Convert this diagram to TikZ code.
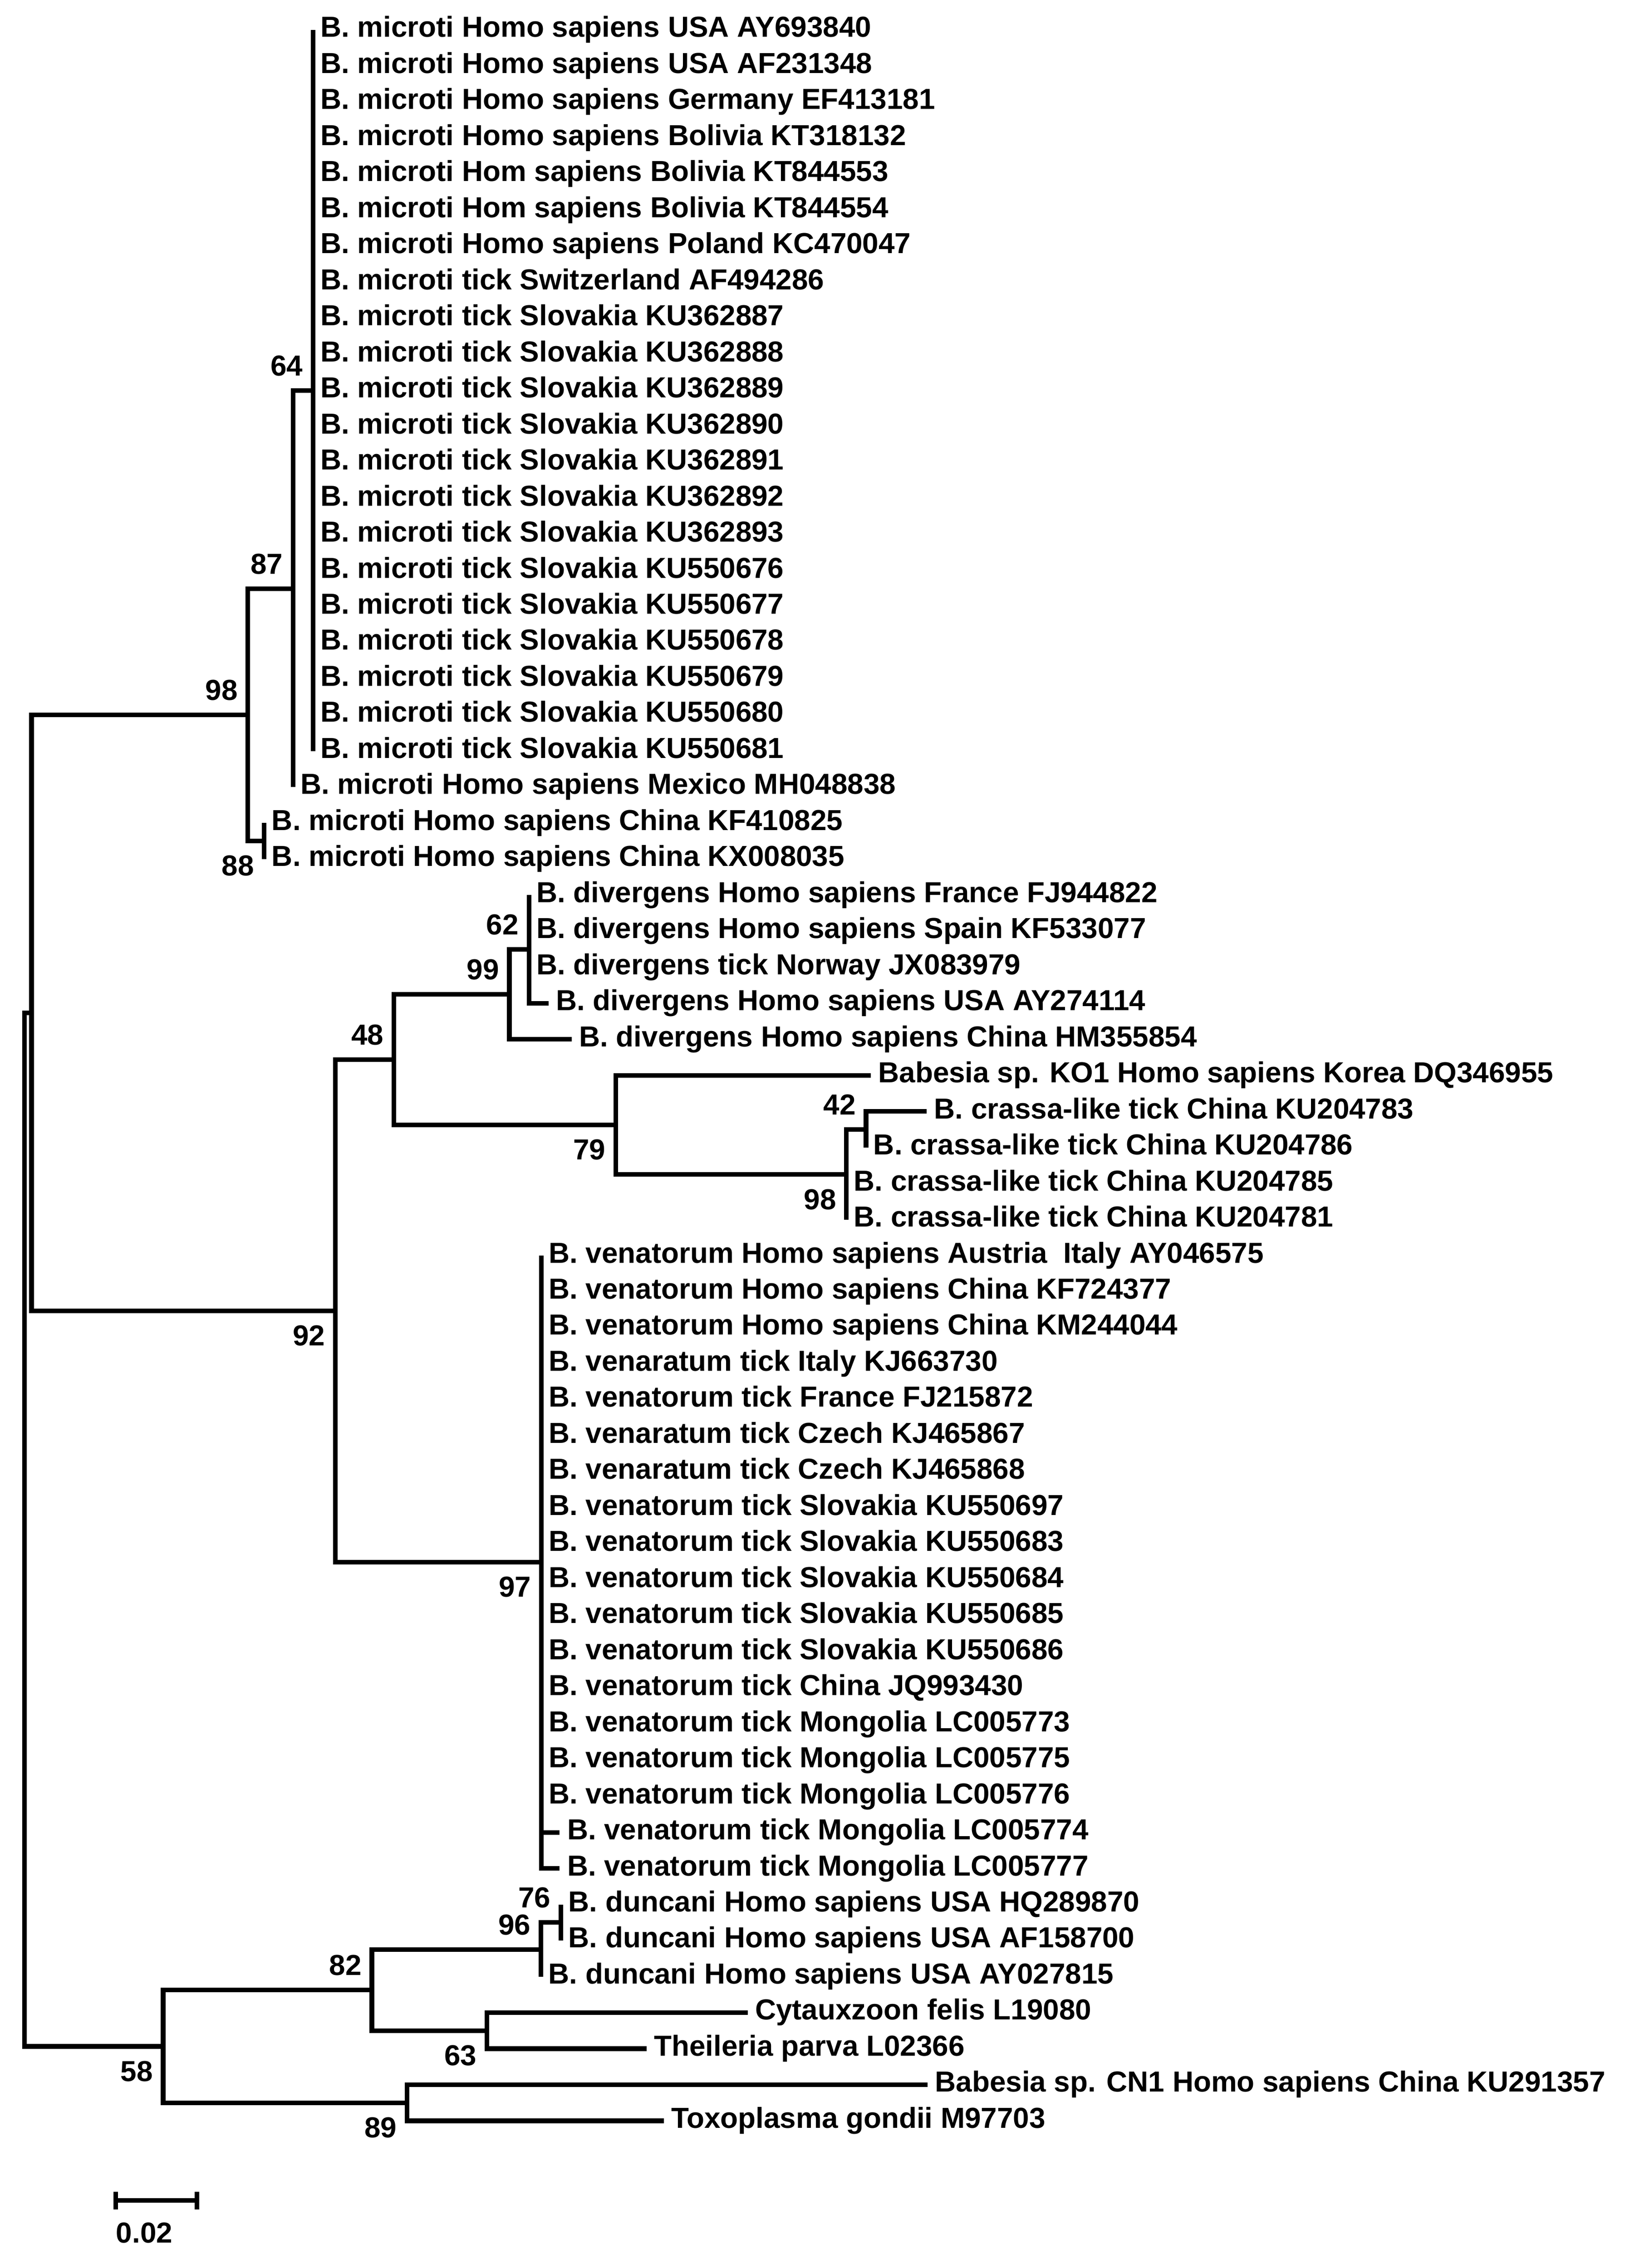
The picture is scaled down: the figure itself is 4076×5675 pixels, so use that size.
\documentclass[tikz,border=0pt]{standalone}
\usepackage{fontspec}
\setmainfont{Liberation Sans}
\tikzset{
	taxon/.style      = {anchor=west, inner xsep=4.5pt, inner ysep=0pt,
		text height=12pt, text depth=3pt,
		font=\fontsize{18.1}{21}\selectfont\bfseries},
	boot/.style       = {anchor=base east, inner sep=0pt, xshift=-6.25pt,
		font=\fontsize{18.1}{21}\selectfont\bfseries},
	bootup/.style     = {boot, yshift=9.25pt},
	bootdown/.style   = {boot, yshift=-21.75pt},
	branchline/.style = {draw, line width=2.9pt, line join=miter}
}
\begin{document}
\begin{tikzpicture}
		[
		x = 0.25pt,
		y = -0.25pt
		]
		\useasboundingbox (0,0) rectangle (4076,5675);
		% internal nodes of the tree
		\coordinate (root) at (61,3827.4);
		\coordinate (nA)   at (79,2534.4);
		\coordinate (n98a) at (620,1788.8);
		\coordinate (n87)  at (733,1473.1);
		\coordinate (n64)  at (783,977);
		\coordinate (n88)  at (661,2104.5);
		\coordinate (n92)  at (839,3279.9);
		\coordinate (n48)  at (985,2651.3);
		\coordinate (n99)  at (1274,2487.9);
		\coordinate (n62)  at (1323,2375.1);
		\coordinate (n79)  at (1540,2814.8);
		\coordinate (n98b) at (2117,2938.9);
		\coordinate (n42)  at (2166,2826.1);
		\coordinate (n97)  at (1354,3908.5);
		\coordinate (n58)  at (408,5120.6);
		\coordinate (n82)  at (930,4979.6);
		\coordinate (n96)  at (1353,4878.2);
		\coordinate (n76)  at (1403,4810.5);
		\coordinate (n63)  at (1218,5081.1);
		\coordinate (n89)  at (1018,5261.5);
		
		% B. microti
		\node [taxon] (t1)  at (783,75)     {B. microti Homo sapiens USA AY693840};
		\node [taxon] (t2)  at (783,165.2)  {B. microti Homo sapiens USA AF231348};
		\node [taxon] (t3)  at (783,255.4)  {B. microti Homo sapiens Germany EF413181};
		\node [taxon] (t4)  at (783,345.6)  {B. microti Homo sapiens Bolivia KT318132};
		\node [taxon] (t5)  at (783,435.8)  {B. microti Hom sapiens Bolivia KT844553};
		\node [taxon] (t6)  at (783,526)    {B. microti Hom sapiens Bolivia KT844554};
		\node [taxon] (t7)  at (783,616.2)  {B. microti Homo sapiens Poland KC470047};
		\node [taxon] (t8)  at (783,706.4)  {B. microti tick Switzerland AF494286};
		\node [taxon] (t9)  at (783,796.6)  {B. microti tick Slovakia KU362887};
		\node [taxon] (t10) at (783,886.8)  {B. microti tick Slovakia KU362888};
		\node [taxon] (t11) at (783,977)    {B. microti tick Slovakia KU362889};
		\node [taxon] (t12) at (783,1067.2) {B. microti tick Slovakia KU362890};
		\node [taxon] (t13) at (783,1157.4) {B. microti tick Slovakia KU362891};
		\node [taxon] (t14) at (783,1247.6) {B. microti tick Slovakia KU362892};
		\node [taxon] (t15) at (783,1337.8) {B. microti tick Slovakia KU362893};
		\node [taxon] (t16) at (783,1428)   {B. microti tick Slovakia KU550676};
		\node [taxon] (t17) at (783,1518.2) {B. microti tick Slovakia KU550677};
		\node [taxon] (t18) at (783,1608.4) {B. microti tick Slovakia KU550678};
		\node [taxon] (t19) at (783,1698.6) {B. microti tick Slovakia KU550679};
		\node [taxon] (t20) at (783,1788.8) {B. microti tick Slovakia KU550680};
		\node [taxon] (t21) at (783,1879)   {B. microti tick Slovakia KU550681};
		\node [taxon] (t22) at (733,1969.2) {B. microti Homo sapiens Mexico MH048838};
		\node [taxon] (t23) at (661,2059.4) {B. microti Homo sapiens China KF410825};
		\node [taxon] (t24) at (661,2149.6) {B. microti Homo sapiens China KX008035};
		% B. divergens, KO1, crassa-like
		\node [taxon] (t25) at (1323,2239.8) {B. divergens Homo sapiens France FJ944822};
		\node [taxon] (t26) at (1323,2330)   {B. divergens Homo sapiens Spain KF533077};
		\node [taxon] (t27) at (1323,2420.2) {B. divergens tick Norway JX083979};
		\node [taxon] (t28) at (1372,2510.4) {B. divergens Homo sapiens USA AY274114};
		\node [taxon] (t29) at (1430,2600.6) {B. divergens Homo sapiens China HM355854};
		\node [taxon] (t30) at (2178,2690.8) {Babesia sp. KO1 Homo sapiens Korea DQ346955};
		\node [taxon] (t31) at (2318,2781)   {B. crassa-like tick China KU204783};
		\node [taxon] (t32) at (2166,2871.2) {B. crassa-like tick China KU204786};
		\node [taxon] (t33) at (2117,2961.4) {B. crassa-like tick China KU204785};
		\node [taxon] (t34) at (2117,3051.6) {B. crassa-like tick China KU204781};
		% B. venatorum
		\node [taxon] (t35) at (1354,3141.8) {B. venatorum Homo sapiens Austria\ \ Italy AY046575};
		\node [taxon] (t36) at (1354,3232)   {B. venatorum Homo sapiens China KF724377};
		\node [taxon] (t37) at (1354,3322.2) {B. venatorum Homo sapiens China KM244044};
		\node [taxon] (t38) at (1354,3412.4) {B. venaratum tick Italy KJ663730};
		\node [taxon] (t39) at (1354,3502.6) {B. venatorum tick France FJ215872};
		\node [taxon] (t40) at (1354,3592.8) {B. venaratum tick Czech KJ465867};
		\node [taxon] (t41) at (1354,3683)   {B. venaratum tick Czech KJ465868};
		\node [taxon] (t42) at (1354,3773.2) {B. venatorum tick Slovakia KU550697};
		\node [taxon] (t43) at (1354,3863.4) {B. venatorum tick Slovakia KU550683};
		\node [taxon] (t44) at (1354,3953.6) {B. venatorum tick Slovakia KU550684};
		\node [taxon] (t45) at (1354,4043.8) {B. venatorum tick Slovakia KU550685};
		\node [taxon] (t46) at (1354,4134)   {B. venatorum tick Slovakia KU550686};
		\node [taxon] (t47) at (1354,4224.2) {B. venatorum tick China JQ993430};
		\node [taxon] (t48) at (1354,4314.4) {B. venatorum tick Mongolia LC005773};
		\node [taxon] (t49) at (1354,4404.6) {B. venatorum tick Mongolia LC005775};
		\node [taxon] (t50) at (1354,4494.8) {B. venatorum tick Mongolia LC005776};
		\node [taxon] (t51) at (1400,4585)   {B. venatorum tick Mongolia LC005774};
		\node [taxon] (t52) at (1400,4675.2) {B. venatorum tick Mongolia LC005777};
		% outgroups
		\node [taxon] (t53) at (1403,4765.4) {B. duncani Homo sapiens USA HQ289870};
		\node [taxon] (t54) at (1403,4855.6) {B. duncani Homo sapiens USA AF158700};
		\node [taxon] (t55) at (1353,4945.8) {B. duncani Homo sapiens USA AY027815};
		\node [taxon] (t56) at (1870,5036)   {Cytauxzoon felis L19080};
		\node [taxon] (t57) at (1617,5126.2) {Theileria parva L02366};
		\node [taxon] (t58) at (2320,5216.4) {Babesia sp. CN1 Homo sapiens China KU291357};
		\node [taxon] (t59) at (1660,5306.6) {Toxoplasma gondii M97703};
		
		% branches
		\draw [branchline] (root) |- (nA);
		\draw [branchline] (root) |- (n58);
		\draw [branchline] (nA) |- (n98a);
		\draw [branchline] (nA) |- (n92);
		\draw [branchline] (n98a) |- (n87);
		\draw [branchline] (n98a) |- (n88);
		\draw [branchline] (n87) |- (n64);
		\draw [branchline] (n87) -- (t22.west);
		\foreach \i in {1,...,21}
			\draw [branchline] (n64) -- (t\i.west);
		\draw [branchline] (n88) -- (t23.west);
		\draw [branchline] (n88) -- (t24.west);
		\draw [branchline] (n92) |- (n48);
		\draw [branchline] (n92) |- (n97);
		\draw [branchline] (n48) |- (n99);
		\draw [branchline] (n48) |- (n79);
		\draw [branchline] (n99) |- (n62);
		\draw [branchline] (n99) |- (t29.west);
		\foreach \i in {25,26,27}
			\draw [branchline] (n62) -- (t\i.west);
		\draw [branchline] (n62) |- (t28.west);
		\draw [branchline] (n79) |- (t30.west);
		\draw [branchline] (n79) |- (n98b);
		\draw [branchline] (n98b) |- (n42);
		\draw [branchline] (n98b) -- (t33.west);
		\draw [branchline] (n98b) -- (t34.west);
		\draw [branchline] (n42) |- (t31.west);
		\draw [branchline] (n42) -- (t32.west);
		\foreach \i in {35,...,50}
			\draw [branchline] (n97) -- (t\i.west);
		\draw [branchline] (n97) |- (t51.west);
		\draw [branchline] (n97) |- (t52.west);
		\draw [branchline] (n58) |- (n82);
		\draw [branchline] (n58) |- (n89);
		\draw [branchline] (n82) |- (n96);
		\draw [branchline] (n82) |- (n63);
		\draw [branchline] (n96) |- (n76);
		\draw [branchline] (n96) -- (t55.west);
		\draw [branchline] (n76) -- (t53.west);
		\draw [branchline] (n76) -- (t54.west);
		\draw [branchline] (n63) |- (t56.west);
		\draw [branchline] (n63) |- (t57.west);
		\draw [branchline] (n89) |- (t58.west);
		\draw [branchline] (n89) |- (t59.west);
		
		% bootstrap values
		\node [bootup]   (b64)  at (n64)  {64};
		\node [bootup]   (b87)  at (n87)  {87};
		\node [bootup]   (b98a) at (n98a) {98};
		\node [bootdown] (b88)  at (n88)  {88};
		\node [bootup]   (b62)  at (n62)  {62};
		\node [bootup]   (b99)  at (n99)  {99};
		\node [bootup]   (b48)  at (n48)  {48};
		\node [bootdown] (b79)  at (n79)  {79};
		\node [bootup]   (b42)  at (n42)  {42};
		\node [bootdown] (b98b) at (n98b) {98};
		\node [bootdown] (b92)  at (n92)  {92};
		\node [bootdown] (b97)  at (n97)  {97};
		\node [bootup]   (b76)  at (n76)  {76};
		\node [bootup]   (b96)  at (n96)  {96};
		\node [bootup]   (b82)  at (n82)  {82};
		\node [bootdown] (b63)  at (n63)  {63};
		\node [bootdown] (b58)  at (n58)  {58};
		\node [bootdown] (b89)  at (n89)  {89};
		
		% scale bar
		\coordinate (sbl) at (289,5506);
		\coordinate (sbr) at (493,5506);
		\draw [branchline] (sbl) -- (sbr);
		\draw [branchline] ([yshift=5.5pt]sbl) -- ([yshift=-5.5pt]sbl);
		\draw [branchline] ([yshift=5.5pt]sbr) -- ([yshift=-5.5pt]sbr);
		\node [boot, anchor=base, xshift=0pt] (sbt) at (386,5612) {0.02};
	\end{tikzpicture}
\end{document}
